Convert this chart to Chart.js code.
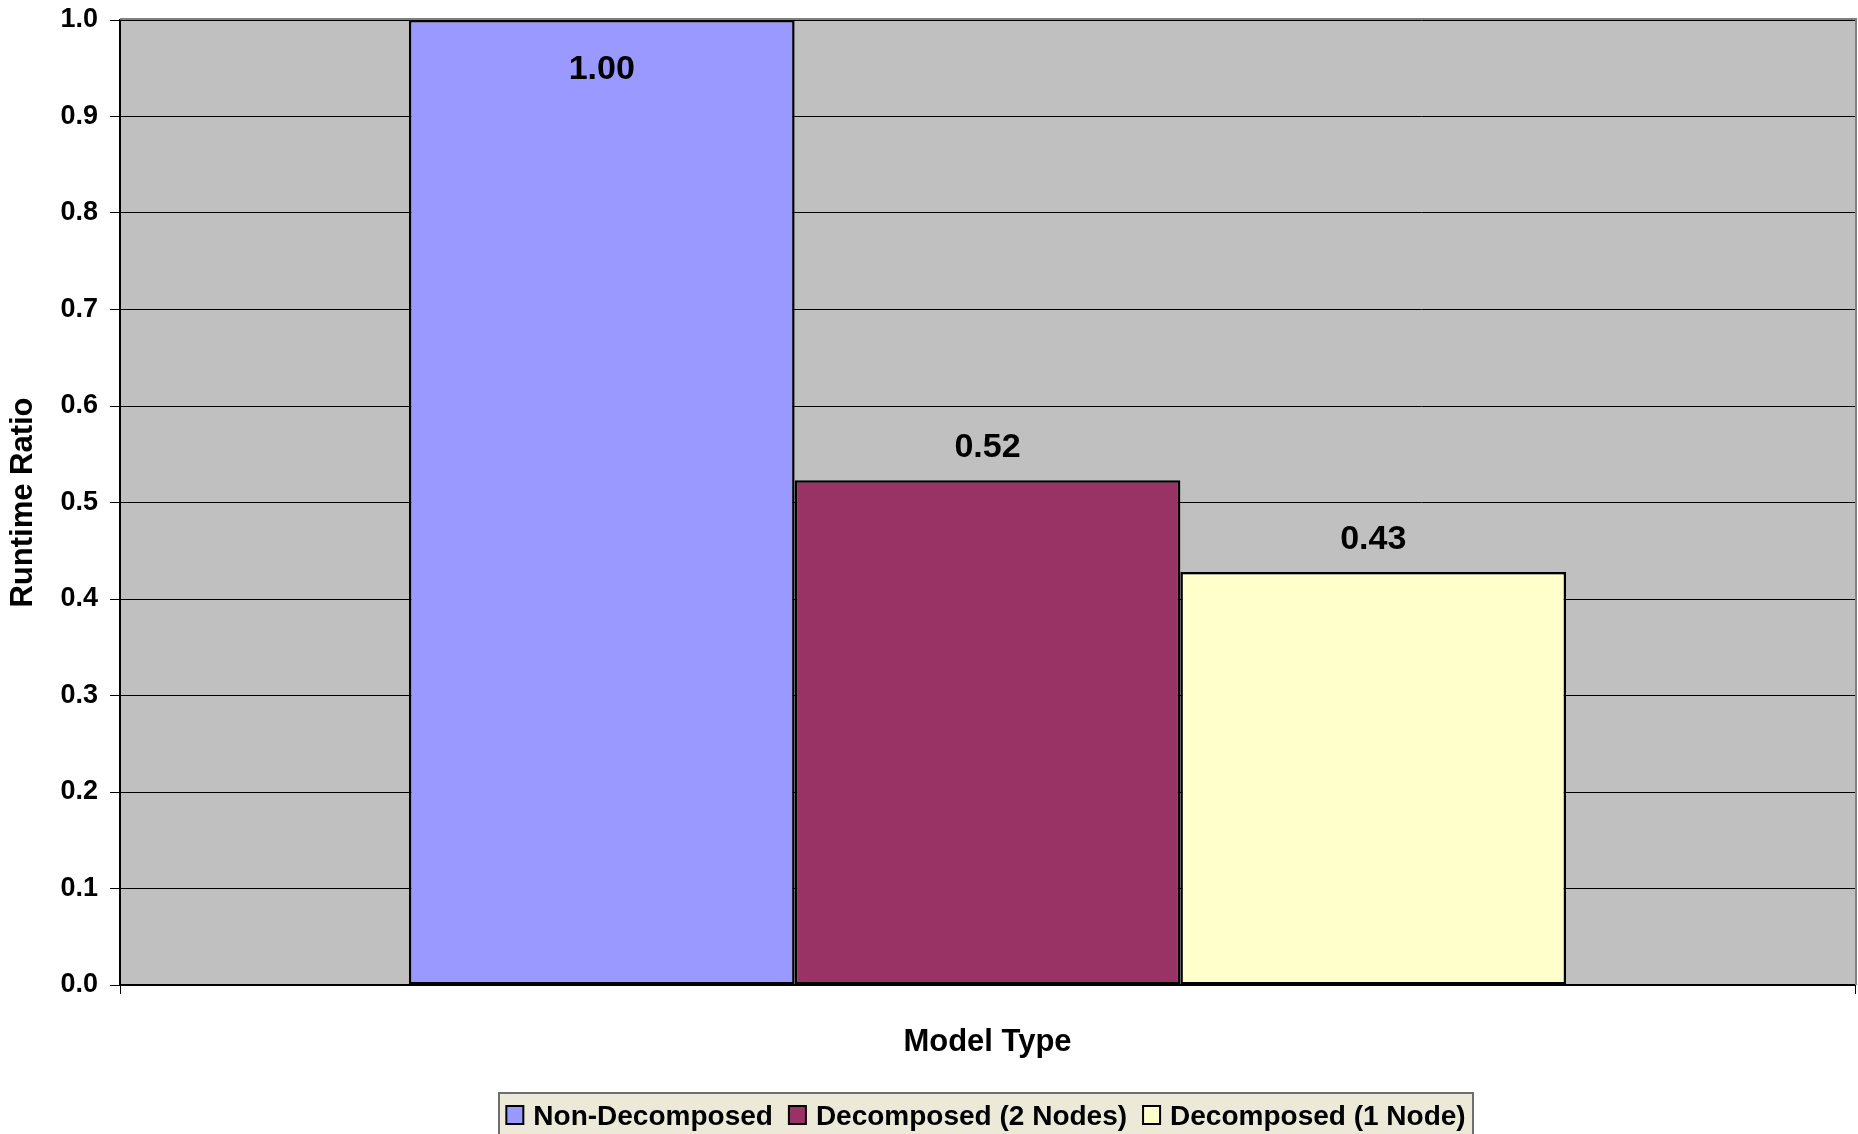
<!DOCTYPE html>
<html>
<head>
<meta charset="utf-8">
<script src="https://cdn.jsdelivr.net/npm/chart.js@4.4.1/dist/chart.umd.min.js"></script>
<style>
  html, body { margin: 0; padding: 0; background: #ffffff; }
  #wrap { width: 1858px; height: 1134px; position: relative; }
</style>
</head>
<body>
<div id="wrap"><canvas id="c" width="1858" height="1134"></canvas></div>
<script>
// ---- data ----
const categories = [''];
const seriesNames = ['Non-Decomposed', 'Decomposed (2 Nodes)', 'Decomposed (1 Node)'];
const nonDecomposed = [1.00];
const decomposed2Nodes = [0.523];
const decomposed1Node = [0.428];
const seriesColors = ['#9999FF', '#993366', '#FFFFCC'];
const yTickMin = 0;
const yTickMax = 1;
const yTickStep = 0.1;
const xAxisTitle = 'Model Type';
const yAxisTitle = 'Runtime Ratio';

const FONT = '"Liberation Sans", Arial, Helvetica, sans-serif';

const plotBg = {
  id: 'plotBg',
  beforeDraw(chart) {
    const {ctx, chartArea: a} = chart;
    ctx.save();
    ctx.fillStyle = '#C0C0C0';
    ctx.fillRect(a.left, a.top, a.right - a.left, a.bottom - a.top);
    ctx.restore();
  },
  beforeDatasetsDraw(chart) {
    const {ctx, chartArea: a} = chart;
    ctx.save();
    ctx.strokeStyle = '#808080';
    ctx.lineWidth = 2;
    ctx.beginPath();
    ctx.moveTo(a.left, a.top - 1);
    ctx.lineTo(a.right + 1, a.top - 1);
    ctx.lineTo(a.right + 1, a.bottom);
    ctx.stroke();
    ctx.restore();
  }
};

const dataLabels = {
  id: 'dataLabels',
  afterDatasetsDraw(chart) {
    const {ctx, chartArea: a} = chart;
    ctx.save();
    ctx.font = 'bold 34px ' + FONT;
    ctx.fillStyle = '#000';
    ctx.textAlign = 'center';
    ctx.textBaseline = 'alphabetic';
    chart.data.datasets.forEach((ds, i) => {
      const meta = chart.getDatasetMeta(i);
      meta.data.forEach((el, j) => {
        const v = ds.data[j];
        let y = el.y - 23;
        if (y - 24 < a.top + 10) y = el.y + 59;
        ctx.fillText(v.toFixed(2), el.x, y);
      });
    });
    ctx.restore();
  }
};

const boxLegend = {
  id: 'boxLegend',
  afterDraw(chart) {
    const {ctx} = chart;
    const boxL = 499, boxR = 1473, boxT = 1093, boxB = 1140;
    ctx.save();
    ctx.fillStyle = '#ECE9D8';
    ctx.fillRect(boxL, boxT, boxR - boxL, boxB - boxT);
    ctx.strokeStyle = '#6e6e6e';
    ctx.lineWidth = 2;
    ctx.strokeRect(boxL, boxT, boxR - boxL, boxB - boxT);
    ctx.font = 'bold 28px ' + FONT;
    const marker = 17, gapText = 10, gapItem = 16;
    const ds = chart.data.datasets;
    const widths = ds.map(d => ctx.measureText(d.label).width);
    let total = 0;
    widths.forEach((w, i) => { total += marker + gapText + w + (i < widths.length - 1 ? gapItem : 0); });
    let x = (boxL + boxR) / 2 - total / 2;
    const baseline = 1125;
    ds.forEach((d, i) => {
      ctx.fillStyle = d.backgroundColor;
      ctx.fillRect(x, 1106, marker, 18);
      ctx.strokeStyle = '#000';
      ctx.lineWidth = 2;
      ctx.strokeRect(x, 1106, marker, 18);
      ctx.fillStyle = '#000';
      ctx.textBaseline = 'alphabetic';
      ctx.textAlign = 'left';
      ctx.fillText(d.label, x + marker + gapText, baseline);
      x += marker + gapText + widths[i] + gapItem;
    });
    ctx.restore();
  }
};

const seriesData = [nonDecomposed, decomposed2Nodes, decomposed1Node];

new Chart(document.getElementById('c'), {
  type: 'bar',
  data: {
    labels: categories,
    datasets: seriesNames.map((name, i) => ({
      label: name,
      data: seriesData[i],
      backgroundColor: seriesColors[i],
      borderColor: '#000000',
      borderWidth: 2.5,
      borderSkipped: false,
      categoryPercentage: 0.667,
      barPercentage: 1.0
    }))
  },
  options: {
    responsive: false,
    animation: false,
    devicePixelRatio: 1,
    layout: { padding: { left: 0, right: 3, top: 20, bottom: 0 } },
    plugins: {
      legend: { display: false },
      tooltip: { enabled: false }
    },
    scales: {
      x: {
        grid: {
          display: true,
          drawOnChartArea: false,
          drawTicks: true,
          tickLength: 9,
          color: '#000000',
          lineWidth: 1
        },
        border: { display: true, color: '#000000', width: 2 },
        ticks: { display: false },
        title: {
          display: true,
          text: xAxisTitle,
          color: '#000',
          font: { family: FONT, size: 31, weight: 'bold' },
          padding: { top: 0, bottom: 73 }
        },
        afterFit(scale) {
          scale.height = 149;
          scale.paddingLeft = 0; scale.paddingRight = 0;
        }
      },
      y: {
        min: yTickMin,
        max: yTickMax,
        grid: {
          color: '#000000',
          lineWidth: 1,
          tickLength: 10,
          drawTicks: true
        },
        border: { display: true, color: '#000000', width: 2 },
        ticks: {
          stepSize: yTickStep,
          color: '#000',
          padding: 12,
          font: { family: FONT, size: 27, weight: 'bold' },
          callback: v => Number(v).toFixed(1)
        },
        title: {
          display: true,
          text: yAxisTitle,
          color: '#000',
          font: { family: FONT, size: 31, weight: 'bold' },
          padding: { top: 5, bottom: 0 }
        },
        afterFit(scale) {
          scale.width = 120;
          scale.paddingTop = 0; scale.paddingBottom = 0;
        }
      }
    }
  },
  plugins: [plotBg, dataLabels, boxLegend]
});
</script>
</body>
</html>
